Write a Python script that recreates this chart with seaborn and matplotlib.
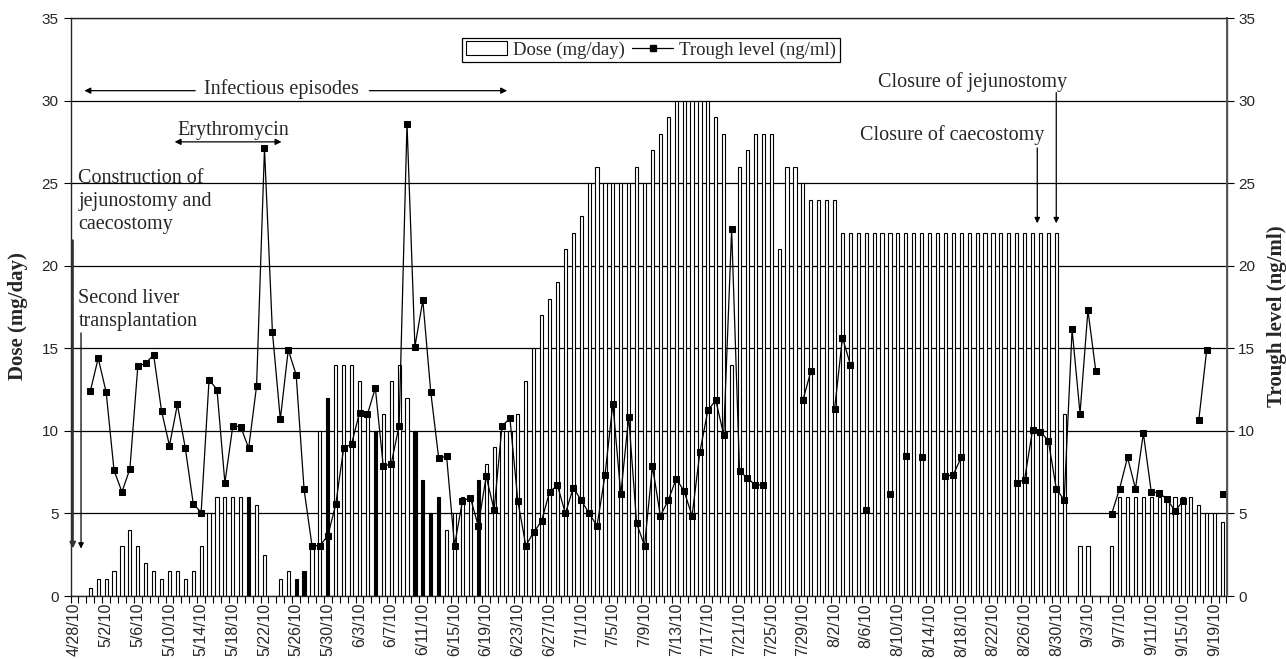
import numpy as np
import pandas as pd
import matplotlib
matplotlib.use('Agg')
import matplotlib.pyplot as plt
import seaborn as sns
from matplotlib.patches import Patch
from matplotlib.lines import Line2D

nan = np.nan

# one value per day, 4/28/10 .. 9/20/10 (146 days)
dose = [nan, nan, 0.5, 1, 1, 1.5, 3, 4, 3, 2,
        1.5, 1, 1.5, 1.5, 1, 1.5, 3, 5, 6, 6,
        6, 6, 6, 5.5, 2.5, nan, 1, 1.5, 1, 1.5,
        3, 10, 12, 14, 14, 14, 13, 11, 10, 11,
        13, 14, 12, 10, 7, 5, 6, 4, 5, 6,
        6, 7, 8, 9, 10, 10, 11, 13, 15, 17,
        18, 19, 21, 22, 23, 25, 26, 25, 25, 25,
        25, 26, 25, 27, 28, 29, 30, 30, 30, 30,
        30, 29, 28, 14, 26, 27, 28, 28, 28, 21,
        26, 26, 25, 24, 24, 24, 24, 22, 22, 22,
        22, 22, 22, 22, 22, 22, 22, 22, 22, 22,
        22, 22, 22, 22, 22, 22, 22, 22, 22, 22,
        22, 22, 22, 22, 22, 11, nan, 3, 3, nan,
        nan, 3, 6, 6, 6, 6, 6, 6, 6, 6,
        6, 6, 5.5, 5, 5, 4.5]

# days drawn as solid black bars
solid_days = [22, 28, 29, 32, 38, 43, 44, 45, 46, 51]

trough = [nan, nan, 12.4, 14.4, 12.35, 7.6, 6.3, 7.7, 13.9, 14.1,
          14.6, 11.2, 9.1, 11.6, 8.95, 5.6, 5.05, 13.1, 12.5, 6.85,
          10.3, 10.25, 8.95, 12.7, 27.1, 16.0, 10.7, 14.9, 13.4, 6.45,
          3.05, 3.05, 3.65, 5.55, 8.95, 9.2, 11.1, 11.0, 12.6, 7.85,
          8.0, 10.3, 28.6, 15.1, 17.9, 12.35, 8.35, 8.45, 3.05, 5.75,
          5.95, 4.25, 7.25, 5.2, 10.3, 10.75, 5.75, 3.05, 3.85, 4.55,
          6.3, 6.7, 5.0, 6.55, 5.8, 5.0, 4.25, 7.3, 11.65, 6.15,
          10.85, 4.4, 3.05, 7.85, 4.85, 5.8, 7.1, 6.35, 4.85, 8.75,
          11.25, 11.85, 9.75, 22.2, 7.55, 7.15, 6.7, 6.75, nan, nan,
          nan, nan, 11.85, 13.6, nan, nan, 11.3, 15.65, 14.0, nan,
          5.2, nan, nan, 6.15, nan, 8.45, nan, 8.4, nan, nan,
          7.25, 7.35, 8.4, nan, nan, nan, nan, nan, nan, 6.85,
          7.05, 10.05, 9.95, 9.4, 6.5, 5.8, 16.15, 11.05, 17.3, 13.6,
          nan, 4.98, 6.5, 8.4, 6.5, 9.85, 6.3, 6.25, 5.85, 5.15,
          5.75, nan, 10.65, 14.9, nan, 6.15]

tick_labels = ['4/28/10', '5/2/10', '5/6/10', '5/10/10', '5/14/10', '5/18/10',
               '5/22/10', '5/26/10', '5/30/10', '6/3/10', '6/7/10', '6/11/10',
               '6/15/10', '6/19/10', '6/23/10', '6/27/10', '7/1/10', '7/5/10',
               '7/9/10', '7/13/10', '7/17/10', '7/21/10', '7/25/10', '7/29/10',
               '8/2/10', '8/6/10', '8/10/10', '8/14/10', '8/18/10', '8/22/10',
               '8/26/10', '8/30/10', '9/3/10', '9/7/10', '9/11/10', '9/15/10',
               '9/19/10']

n_days = len(dose)

#----------------------------------------------------------------------------------------------
df = pd.DataFrame({'day': np.arange(n_days), 'dose': dose, 'trough': trough})
df['kind'] = np.where(df['day'].isin(solid_days), 'solid', 'open')

# break the trough line wherever a value is missing
df['seg'] = df['trough'].isna().cumsum()
tr = df.dropna(subset=['trough'])
bars = df.dropna(subset=['dose'])

sns.set_style('ticks')
serif = ['Liberation Serif', 'DejaVu Serif']
sans = ['Liberation Sans', 'DejaVu Sans']
narrow = ['Liberation Sans Narrow', 'Liberation Sans', 'DejaVu Sans']

fig = plt.figure(figsize=(12.86, 6.59), dpi=100)
ax = fig.add_axes([70.5 / 1286, 1 - 596 / 659, 1156 / 1286, 578 / 659])

sns.barplot(data=bars, x='day', y='dose', hue='kind',
            palette={'open': 'white', 'solid': 'black'},
            dodge=False, native_scale=True, width=0.4,
            edgecolor='black', linewidth=0.8, legend=False, ax=ax)

ax.set_xlim(-0.5, n_days - 0.5)
ax.set_ylim(0, 35)
ax.set_yticks(range(0, 36, 5))
ax.yaxis.grid(True, color='black', lw=0.9)
ax.set_axisbelow(True)
for s in ['left', 'bottom', 'right', 'top']:
    ax.spines[s].set_color('black')
    ax.spines[s].set_linewidth(0.9)

# ticks at every category boundary, labels every 4th day
ax.set_xticks(np.arange(-0.5, n_days, 1))
ax.set_xticklabels([])
ax.tick_params(axis='x', which='major', length=5, width=0.8, color='black')
ax.set_xticks(np.arange(0, n_days, 4), minor=True)
ax.set_xticklabels(tick_labels, minor=True, rotation=90, family=narrow, fontsize=11.5)
ax.tick_params(axis='x', which='minor', length=0, pad=5)
ax.tick_params(axis='y', length=5, width=0.8, labelsize=11, color='black')
for t in ax.get_yticklabels():
    t.set_family(sans)
ax.set_xlabel('')
ax.set_ylabel('')

ax2 = ax.twinx()
sns.lineplot(data=tr, x='day', y='trough', units='seg', estimator=None,
             color='black', lw=0.9, marker='s', markersize=4.6,
             markeredgecolor='black', ax=ax2)
ax2.set_ylim(0, 35)
ax2.set_yticks(range(0, 36, 5))
ax2.set_xlim(-0.5, n_days - 0.5)
ax2.tick_params(axis='y', length=5, width=0.8, labelsize=11, color='black')
for t in ax2.get_yticklabels():
    t.set_family(sans)
ax2.set_ylabel('')
ax2.spines['right'].set_color('#555555')
ax2.spines['right'].set_linewidth(1.4)

fig.text(18 / 1286, 1 - 316 / 659, 'Dose (mg/day)', rotation=90, ha='center', va='center',
         family=serif, fontweight='bold', fontsize=15)
fig.text(1277 / 1286, 1 - 316 / 659, 'Trough level (ng/ml)', rotation=90, ha='center', va='center',
         family=serif, fontweight='bold', fontsize=15)

# annotations
fs = 14.5
ax2.text(26.1, 30.7, 'Infectious episodes', ha='center', va='center', family=serif, fontsize=fs)
ax2.annotate('', xy=(0.9, 30.6), xytext=(15.6, 30.6),
             arrowprops=dict(arrowstyle='-|>', color='black', lw=0.9, mutation_scale=9))
ax2.annotate('', xy=(55.0, 30.6), xytext=(36.9, 30.6),
             arrowprops=dict(arrowstyle='-|>', color='black', lw=0.9, mutation_scale=9))

ax2.text(20.0, 28.2, 'Erythromycin', ha='center', va='center', family=serif, fontsize=fs)
ax2.annotate('', xy=(12.3, 27.5), xytext=(26.5, 27.5),
             arrowprops=dict(arrowstyle='<|-|>', color='black', lw=0.9, mutation_scale=9))

ax2.text(0.5, 23.9, 'Construction of\njejunostomy and\ncaecostomy', ha='left', va='center',
         family=serif, fontsize=fs, linespacing=1.3)
ax2.text(0.5, 17.3, 'Second liver\ntransplantation', ha='left', va='center',
         family=serif, fontsize=fs, linespacing=1.3)
ax2.annotate('', xy=(-0.22, 2.7), xytext=(-0.22, 21.7),
             arrowprops=dict(arrowstyle='-|>', color='#333333', lw=1.6, mutation_scale=8))
ax2.annotate('', xy=(0.83, 2.7), xytext=(0.83, 16.1),
             arrowprops=dict(arrowstyle='-|>', color='black', lw=0.9, mutation_scale=8))

ax2.text(113.4, 31.15, 'Closure of jejunostomy', ha='center', va='center', family=serif, fontsize=fs)
ax2.annotate('', xy=(124.0, 22.4), xytext=(124.0, 30.65),
             arrowprops=dict(arrowstyle='-|>', color='black', lw=0.9, mutation_scale=8))
ax2.text(110.8, 27.9, 'Closure of caecostomy', ha='center', va='center', family=serif, fontsize=fs)
ax2.annotate('', xy=(121.6, 22.4), xytext=(121.6, 27.3),
             arrowprops=dict(arrowstyle='-|>', color='black', lw=0.9, mutation_scale=8))

handles = [Patch(facecolor='white', edgecolor='black', lw=0.8),
           Line2D([], [], color='black', lw=0.9, marker='s', markersize=4)]
leg = fig.legend(handles, ['Dose (mg/day)', 'Trough level (ng/ml)'], ncol=2,
                 loc='center', bbox_to_anchor=(651 / 1286, 1 - 50 / 659),
                 prop={'family': serif, 'size': 13.5}, frameon=True, fancybox=False,
                 framealpha=1, edgecolor='black', handlelength=2.2, handleheight=0.7,
                 handletextpad=0.3, columnspacing=0.4, borderpad=0.2, borderaxespad=0)
leg.get_frame().set_linewidth(0.9)

fig.savefig('out.png', dpi=100)
